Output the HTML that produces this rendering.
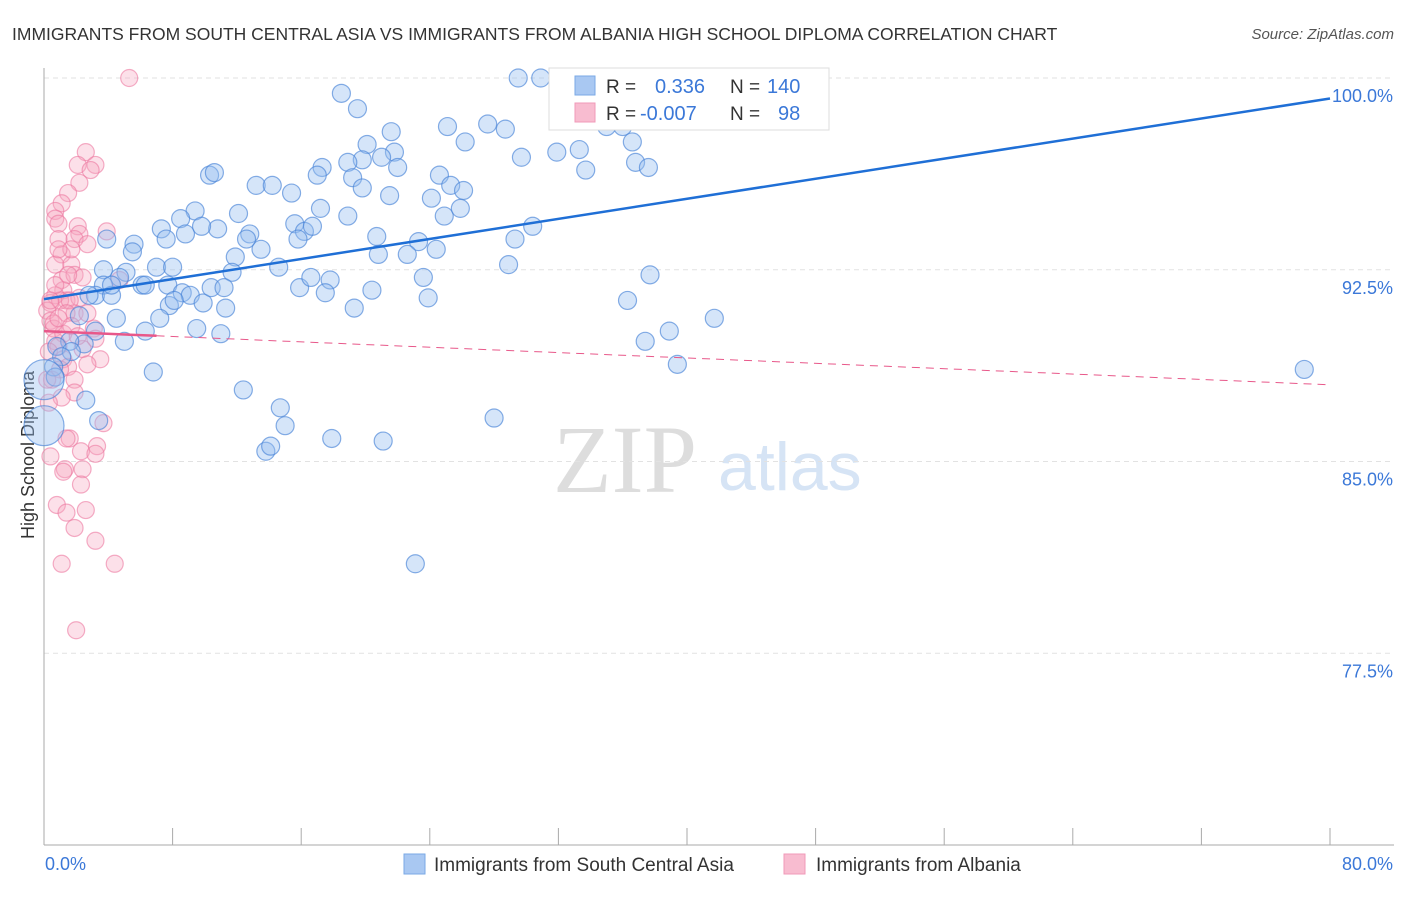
<!DOCTYPE html>
<html><head><meta charset="utf-8"><style>
body{margin:0;background:#fff;width:1406px;height:892px;overflow:hidden;font-family:"Liberation Sans",sans-serif}
svg text{font-family:"Liberation Sans",sans-serif}
</style></head><body>
<svg id="chart" width="1406" height="892" xmlns="http://www.w3.org/2000/svg">
<text x="12" y="40" font-size="17.5" fill="#333">IMMIGRANTS FROM SOUTH CENTRAL ASIA VS IMMIGRANTS FROM ALBANIA HIGH SCHOOL DIPLOMA CORRELATION CHART</text>
<text x="1394" y="39" font-size="15" fill="#555" font-style="italic" text-anchor="end">Source: ZipAtlas.com</text>
<text x="34" y="455" font-size="18" fill="#333" text-anchor="middle" transform="rotate(-90 34 455)">High School Diploma</text>
<g><text x="553" y="492" font-size="96" fill="#ddd" font-family="Liberation Serif" style="font-family:'Liberation Serif',serif">ZIP</text><text x="718" y="490" font-size="68" fill="#d6e4f5">atlas</text></g>
<g id="grid"></g><g id="axes"></g><g id="pts"></g><g id="trend"></g>
<g>
<rect x="549" y="68" width="280" height="62" fill="#fff" stroke="#ddd"/>
<rect x="575" y="76" width="20" height="19" fill="#a9c8f2" stroke="#7aa9e6"/>
<rect x="575" y="103" width="20" height="19" fill="#f8bcd0" stroke="#f09ab8"/>
<text x="606" y="93" font-size="19" fill="#333">R =</text><text x="655" y="93" font-size="20" fill="#3b78d8">0.336</text>
<text x="730" y="93" font-size="19" fill="#333">N =</text><text x="767" y="93" font-size="20" fill="#3b78d8">140</text>
<text x="606" y="120" font-size="19" fill="#333">R =</text><text x="640" y="120" font-size="20" fill="#3b78d8">-0.007</text>
<text x="730" y="120" font-size="19" fill="#333">N =</text><text x="778" y="120" font-size="20" fill="#3b78d8">98</text>
</g>
<g>
<rect x="404" y="854" width="21" height="20" fill="#a9c8f2" stroke="#7aa9e6"/>
<text x="434" y="871" font-size="19" fill="#333">Immigrants from South Central Asia</text>
<rect x="784" y="854" width="21" height="20" fill="#f8bcd0" stroke="#f09ab8"/>
<text x="816" y="871" font-size="19" fill="#333">Immigrants from Albania</text>
</g>
</svg>
<script>
const blueX=[29.5,30.9,18.5,19.5,21.6,25.1,27.6,28.7,26.2,20.1,21.8,21.0,19.8,18.9,17.3,22.0,29.7,31.9,33.3,35.0,36.0,36.6,33.7,36.8,37.6,10.3,10.6,13.2,14.2,15.4,17.0,19.2,19.8,21.5,24.6,25.3,26.1,24.1,24.9,25.9,17.2,18.9,12.1,9.4,8.5,7.3,8.8,10.8,9.8,12.8,15.6,16.2,16.7,12.6,13.5,15.8,20.7,20.8,23.3,24.4,22.6,29.3,30.4,5.6,3.9,5.5,7.6,11.9,11.7,14.6,7.0,8.0,5.1,3.7,4.7,3.7,3.2,2.8,4.2,4.2,6.1,6.3,7.7,8.6,9.1,9.9,10.4,11.2,11.3,7.8,8.1,7.2,9.5,11.0,6.3,5.0,3.2,2.5,1.6,0.8,1.7,1.1,0.6,0.7,4.5,2.2,6.8,12.4,15.9,16.6,17.8,17.5,20.4,19.3,23.6,23.9,28.9,37.7,36.3,38.9,37.4,41.7,39.4,78.4,2.6,3.4,0.0,14.7,15.0,13.8,14.1,17.9,21.1,28.0,23.1,0.0];
const blueY=[100.0,100.0,99.4,98.8,97.9,98.1,98.2,98.0,97.5,97.4,97.1,96.9,96.8,96.7,96.5,96.5,96.9,97.1,97.2,98.1,98.1,97.5,96.4,96.7,96.5,96.2,96.3,95.8,95.8,95.5,96.2,96.1,95.7,95.4,96.2,95.8,95.6,95.3,94.6,94.9,94.9,94.6,94.7,94.8,94.5,94.1,93.9,94.1,94.2,93.9,94.3,94.0,94.2,93.7,93.3,93.7,93.8,93.1,93.6,93.3,93.1,93.7,94.2,93.5,93.7,93.2,93.7,93.0,92.4,92.6,92.6,92.6,92.4,92.5,92.2,91.9,91.5,91.5,91.5,91.9,91.9,91.9,91.9,91.6,91.5,91.2,91.8,91.8,91.0,91.1,91.3,90.6,90.2,90.0,90.1,89.7,90.1,89.6,89.7,89.5,89.3,89.1,88.7,88.3,90.6,90.7,88.5,87.8,91.8,92.2,92.1,91.6,91.7,91.0,92.2,91.4,92.7,92.3,91.3,90.1,89.7,90.6,88.8,88.6,87.4,86.6,86.4,87.1,86.4,85.4,85.6,85.9,85.8,86.7,81.0,88.2];
const blueSize=[];blueSize[blueX.length-1]=1;blueSize[blueX.length-10]=1;
const pinkX=[5.3,2.6,3.2,2.1,2.9,2.2,1.5,1.1,0.7,0.7,0.9,2.1,2.2,1.9,2.7,0.9,3.9,1.1,0.7,1.7,1.1,1.9,2.4,1.2,1.4,0.7,0.4,0.2,0.4,0.6,0.7,1.2,1.9,2.2,3.1,3.2,2.4,0.9,0.3,1.2,1.5,3.5,2.7,1.0,0.5,1.9,1.9,1.1,0.3,3.7,1.6,1.4,3.3,2.3,3.2,0.4,2.4,1.3,1.2,2.3,0.8,1.4,2.6,1.9,3.2,1.1,4.4,2.0,0.2,0.6,1.0,1.6,1.4,0.7,1.7,0.9,2.7,1.5,0.4,0.9,1.7,2.1,4.7];
const pinkY=[100.0,97.1,96.6,96.6,96.4,95.9,95.5,95.1,94.8,94.5,94.3,94.2,93.9,93.7,93.5,93.7,94.0,93.1,92.7,92.7,92.1,92.3,92.2,91.7,91.3,91.5,91.2,90.9,90.5,90.2,89.7,90.0,90.8,91.4,90.2,89.8,89.4,89.5,89.3,89.0,88.7,89.0,88.8,88.6,88.2,88.2,87.7,87.5,87.3,86.5,85.9,85.9,85.6,85.4,85.3,85.2,84.7,84.7,84.6,84.1,83.3,83.0,83.1,82.4,81.9,81.0,81.0,78.4,88.2,90.4,91.3,91.3,90.8,91.9,93.3,93.3,90.8,92.3,91.3,90.6,90.3,89.9,92.1];
const yTicks=[100,92.5,85,77.5];
const yTickLabels=["100.0%","92.5%","85.0%","77.5%"];
const xTicks=[0,8,16,24,32,40,48,56,64,72,80];
const blueTrend=[91.35,99.2];
const pinkTrend=[90.1,88.0];
const X0=44,X1=1330,Y0=845,Y1=78;
const sx=v=>X0+(v/80)*(X1-X0);
const sy=v=>Y0-((v-70)/30)*(Y0-Y1);
const NS="http://www.w3.org/2000/svg";
function mk(p,tag,at){const e=document.createElementNS(NS,tag);for(const k in at)e.setAttribute(k,at[k]);p.appendChild(e);return e;}
const grid=document.getElementById('grid'),axes=document.getElementById('axes'),pts=document.getElementById('pts'),tr=document.getElementById('trend');
yTicks.forEach((t,i)=>{
 const l=mk(grid,'line',{x1:X0,x2:1394,y1:sy(t),y2:sy(t),stroke:'#e2e2e2','stroke-dasharray':'5,4'});
 
 
 const tx=mk(axes,'text',{x:1393,y:sy(t)+24,'font-size':18,fill:'#3b78d8','text-anchor':'end'});
 tx.textContent=yTickLabels[i];
 
 
});
const ya=mk(axes,'line',{x1:X0,x2:X0,y1:68,y2:Y0,stroke:'#aaa'});


const xa=mk(axes,'line',{x1:X0,x2:1394,y1:Y0,y2:Y0,stroke:'#aaa'});


xTicks.forEach(t=>{
 const l=mk(axes,'line',{x1:sx(t),x2:sx(t),y1:828,y2:Y0,stroke:'#aaa'});
 
 
});
const xl0=mk(axes,'text',{x:45,y:870,'font-size':18,fill:'#3b78d8'});xl0.textContent='0.0%';


const xl1=mk(axes,'text',{x:1393,y:870,'font-size':18,fill:'#3b78d8','text-anchor':'end'});xl1.textContent='80.0%';


pinkX.forEach((v,i)=>{
 const c=mk(pts,'circle',{cx:sx(v),cy:sy(pinkY[i]),r:8.5,fill:'rgba(245,165,192,0.35)',stroke:'rgba(236,120,160,0.6)','stroke-width':1.2});
 
 
});
blueX.forEach((v,i)=>{
 const c=mk(pts,'circle',{cx:sx(v),cy:sy(blueY[i]),r:blueSize[i]?20:9,fill:'rgba(150,190,240,0.4)',stroke:'rgba(70,130,215,0.65)','stroke-width':1.2});
 
 
});
const bt=mk(tr,'line',{x1:sx(0),y1:sy(blueTrend[0]),x2:sx(80),y2:sy(blueTrend[1]),stroke:'#1f6fd6','stroke-width':2.5});


const pf=v=>pinkTrend[0]+(pinkTrend[1]-pinkTrend[0])*v/80;
const ps=mk(tr,'line',{x1:sx(0),y1:sy(pf(0)),x2:sx(7),y2:sy(pf(7)),stroke:'#e8588a','stroke-width':2.5});


const pd=mk(tr,'line',{x1:sx(7),y1:sy(pf(7)),x2:sx(80),y2:sy(pf(80)),stroke:'#e8588a','stroke-width':1,'stroke-dasharray':'8,6'});


</script>
</body></html>
